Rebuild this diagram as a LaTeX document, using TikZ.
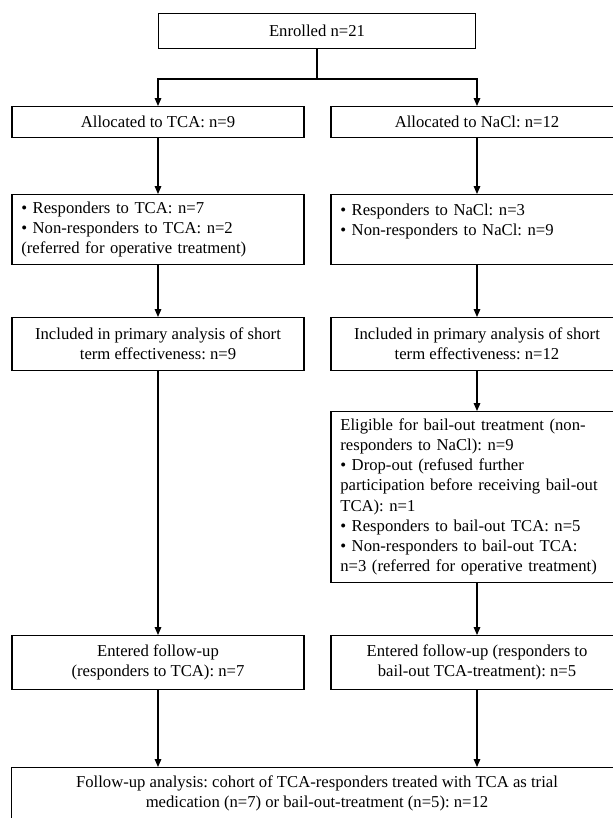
\documentclass[tikz,border=0pt]{standalone}
\usepackage{fontspec}
\setmainfont{Liberation Serif}
\usetikzlibrary{arrows.meta,positioning}
\tikzset{
  box/.style={draw, line width=0.8pt, minimum width=219pt, inner xsep=4pt, inner ysep=3pt,
    align=center, anchor=north, font=\fontsize{12.5}{15.2}\selectfont\frenchspacing},
  listbox/.style={box, align=left, inner xsep=7pt, text width=205pt},
  flowln/.style={-{Triangle[length=6pt,width=5pt]}, line width=0.8pt},
  plainln/.style={line width=0.8pt},
}

\begin{document}
\begin{tikzpicture}[x=0.75pt, y=-0.75pt]
  \useasboundingbox (0,0) rectangle (613,818);
  % top of the chart
  \node[box, minimum width=238pt, minimum height=26.25pt] (enrol) at (317,13) {Enrolled n=21};
  \coordinate (split) at (317,79);
  % left column: TCA
  \node[box, minimum height=23.25pt] (tca) at (158,106) {Allocated to TCA: n=9};
  \node[listbox, minimum height=52.5pt] (tcaresp) at (158,194)
    {• Responders to TCA: n=7\\ • Non-responders to TCA: n=2\\ (referred for operative treatment)};
  \node[box, minimum height=39.75pt] (tcaincl) at (158,317)
    {Included in primary analysis of short\\ term effectiveness: n=9};
  \node[box, minimum height=40.5pt] (tcafu) at (158,635)
    {Entered follow-up\\ (responders to TCA): n=7};
  % right column: NaCl
  \node[box, minimum height=23.25pt] (nacl) at (477,106) {Allocated to NaCl: n=12};
  \node[listbox, minimum height=52.5pt] (naclresp) at (477,194)
    {• Responders to NaCl: n=3\\ • Non-responders to NaCl: n=9\\ \mbox{}};
  \node[box, minimum height=39.75pt] (naclincl) at (477,317)
    {Included in primary analysis of short\\ term effectiveness: n=12};
  \node[listbox, minimum height=128pt] (bailout) at (477,411)
    {Eligible for bail-out treatment (non-\\ responders to NaCl): n=9\\
     • Drop-out (refused further\\ participation before receiving bail-out\\ TCA): n=1\\
     • Responders to bail-out TCA: n=5\\ • Non-responders to bail-out TCA:\\
     n=3 (referred for operative treatment)};
  \node[box, minimum height=40.5pt] (naclfu) at (477,635)
    {Entered follow-up (responders to\\ bail-out TCA-treatment): n=5};
  % bottom box, runs off the page
  \node[box, minimum width=458pt, minimum height=39pt] (cohort) at (317,767)
    {Follow-up analysis: cohort of TCA-responders treated with TCA as trial\\
     medication (n=7) or bail-out-treatment (n=5): n=12};
  % connectors
  \draw[plainln] (enrol) -- (split);
  \draw[flowln] (split) -| (tca);
  \draw[flowln] (split) -| (nacl);
  \draw[flowln] (tca) -- (tcaresp);
  \draw[flowln] (tcaresp) -- (tcaincl);
  \draw[flowln] (tcaincl) -- (tcafu);
  \draw[flowln] (nacl) -- (naclresp);
  \draw[flowln] (naclresp) -- (naclincl);
  \draw[flowln] (naclincl) -- (bailout);
  \draw[flowln] (bailout) -- (naclfu);
  \draw[flowln] (tcafu) -- (tcafu.south |- cohort.north);
  \draw[flowln] (naclfu) -- (naclfu.south |- cohort.north);
\end{tikzpicture}
\end{document}
